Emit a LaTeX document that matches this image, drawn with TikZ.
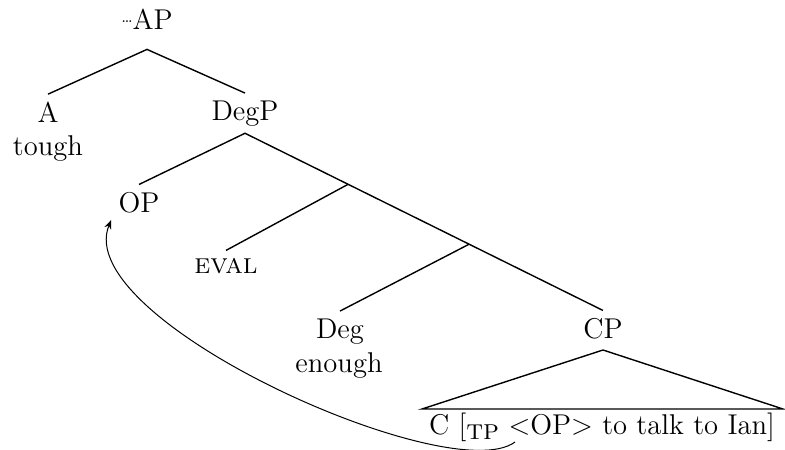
\documentclass[tikz,border=0pt]{standalone}
\usepackage{fontspec}
\usetikzlibrary{arrows.meta,calc}

\begin{document}
\begin{tikzpicture}[x=0.5pt, y=-0.5pt,
    lbl/.style={anchor=base, inner sep=3.5pt, font=\fontsize{14.3}{16}\selectfont},
    branch/.style={line width=0.7pt},
    move/.style={line width=0.5pt, -{Stealth[length=4.5pt,width=3.5pt]}}]
  \useasboundingbox (0,0) rectangle (785,449);

  % top of the tree
  \node[lbl, inner ysep=9.5pt] (AP) at (147,30) {\raisebox{0.6ex}{\footnotesize\dots}AP};
  \node[lbl] (A) at (48,122) {A};
  \node[lbl] (tough) at (48,155) {tough};
  \node[lbl] (DegP) at (245,120) {DegP};

  % DegP and its spine
  \node[lbl] (OP) at (139,212) {OP};
  \node[lbl] (EVAL) at (226,273) {\textsc{eval}};
  \node[lbl] (Deg) at (340,338) {Deg};
  \node[lbl] (enough) at (339,372) {enough};
  \node[lbl] (CP) at (603,338) {CP};
  \node[lbl] (clause) at (602,434)
    {C [\raisebox{-0.45ex}{\textsc{tp}} <OP> to talk to Ian]};

  \coordinate (degbar1) at ($(DegP.south)!0.288!(CP.north)$);
  \coordinate (degbar2) at ($(DegP.south)!0.626!(CP.north)$);
  \coordinate (cp-top) at ($(CP.south)+(0,4)$);
  \coordinate (cp-left) at (422,409);
  \coordinate (cp-right) at (783,409);
  \coordinate (trace) at (515,442);

  % branches
  \draw[branch] (A.north) -- (AP.south) -- (DegP.north);
  \draw[branch] (OP.north) -- (DegP.south) -- (CP.north);
  \draw[branch] (degbar1) -- (EVAL.north);
  \draw[branch] (degbar2) -- (Deg.north);

  % CP triangle
  \draw[branch] (cp-top) -- (cp-left) -- (cp-right) -- cycle;

  % movement of OP
  \draw[move] (trace) .. controls (450,490) and (70,320) .. (OP.south west);
\end{tikzpicture}
\end{document}
